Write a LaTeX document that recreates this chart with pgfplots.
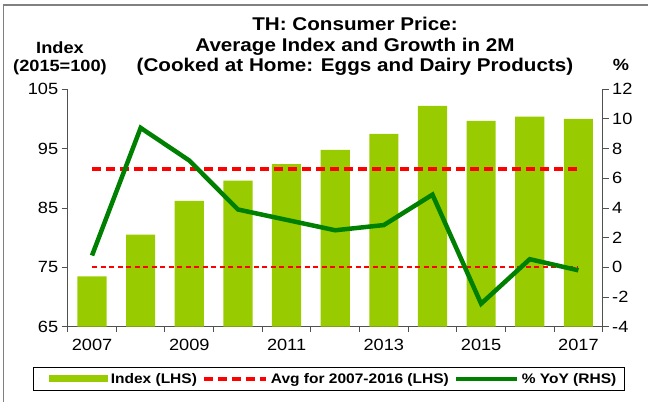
\documentclass[border=0pt]{standalone}
\usepackage{fontspec}
\setmainfont{Liberation Sans}[FakeStretch=1.12]
\usepackage{pgfplots}
\pgfplotsset{compat=1.18}
\definecolor{barg}{HTML}{99CC00}
\definecolor{lineg}{HTML}{008000}
\definecolor{axg}{HTML}{505050}
\definecolor{myred}{HTML}{FF0000}
\begin{document}
\begin{tikzpicture}[x=1bp,y=1bp]
\useasboundingbox (-67.7,-74.3) rectangle (580.3,326.7);
\draw[gray, line width=1.3bp] (-64.4,-80) -- (-64.4,321.7) -- (590,321.7);
\begin{axis}[
  at={(0,0)}, anchor=south west,
  width=535bp, height=237.4bp, scale only axis,
  xmin=-0.5, xmax=10.5, ymin=65, ymax=105,
  axis x line*=bottom, axis y line*=left,
  ytick={65,75,85,95,105},
  xtick={0,2,4,6,8,10}, xticklabels={2007,2009,2011,2013,2015,2017},
  major x tick style={draw=none},
  minor xtick={-0.5,0.5,1.5,2.5,3.5,4.5,5.5,6.5,7.5,8.5,9.5,10.5},
  tick align=outside, major tick length=6bp, minor tick length=5bp,
  axis line style={axg, line width=1bp}, every tick/.style={axg, line width=1bp},
  ticklabel style={font=\fontsize{16.3}{18}\selectfont},
  xticklabel style={yshift=-3bp},
  /pgf/number format/assume math mode=true,
  legend columns=3,
  legend style={at={(-0.0643,-0.1685)}, anchor=north west, draw=black, line width=1bp,
    font=\bfseries\fontsize{13.9}{15}\selectfont, inner xsep=5bp, inner ysep=6bp,
    nodes={inner xsep=3bp, inner ysep=0bp},
    /tikz/column 2/.style={column sep=2bp},
    /tikz/column 4/.style={column sep=2bp}},
]
\addplot[ybar, bar width=0.6, fill=barg, draw=none,
  legend image code/.code={\path (0bp,0bp) -- (1bp,0bp); \fill[barg] (10bp,-3.5bp) rectangle (69bp,3.5bp);}]
  coordinates {(0,73.5) (1,80.5) (2,86.2) (3,89.6) (4,92.4) (5,94.8) (6,97.5) (7,102.2) (8,99.7) (9,100.4) (10,100.0)};
\addlegendentry{Index (LHS)}
\addplot[myred, line width=4bp, dash pattern=on 9bp off 5bp,
  legend image code/.code={\draw[myred, line width=4bp, dash pattern=on 9bp off 5bp] (0bp,0bp) -- (62bp,0bp);}]
  coordinates {(0,91.6) (10,91.6)};
\addlegendentry{Avg for 2007-2016 (LHS)}
\addlegendimage{legend image code/.code={\draw[lineg, line width=4bp] (0bp,0bp) -- (61bp,0bp);}}
\addlegendentry{\% YoY (RHS)}
\end{axis}
\begin{axis}[
  at={(0,0)}, anchor=south west,
  width=535bp, height=237.4bp, scale only axis,
  xmin=-0.5, xmax=10.5, ymin=-4, ymax=12,
  axis x line=none, axis y line*=right,
  ytick={-4,-2,0,2,4,6,8,10,12},
  tick align=outside, major tick length=6bp,
  axis line style={axg, line width=1bp}, every tick/.style={axg, line width=1bp},
  ticklabel style={font=\fontsize{16.3}{18}\selectfont},
  /pgf/number format/assume math mode=true,
]
\addplot[draw=myred, color=myred, line width=1.8bp, dash pattern=on 5bp off 3.5bp]
  coordinates {(0,0) (10,0)};
\addplot[lineg, line width=4.5bp]
  coordinates {(0,0.8) (1,9.4) (2,7.2) (3,3.9) (4,3.2) (5,2.5) (6,2.85) (7,4.9) (8,-2.45) (9,0.55) (10,-0.2)};
\end{axis}
\node[font=\bfseries\fontsize{18.5}{20}\selectfont, anchor=base] at (287.3,296.2) {TH: Consumer Price:};
\node[font=\bfseries\fontsize{18.5}{20}\selectfont, anchor=base] at (287.3,275.7) {Average Index and Growth in 2M};
\node[font=\bfseries\fontsize{18.5}{20}\selectfont, anchor=base] at (287.3,255) {(Cooked at Home: Eggs and Dairy Products)};
\node[font=\bfseries\fontsize{16.3}{18}\selectfont, anchor=base] at (-7.7,273.7) {Index};
\node[font=\bfseries\fontsize{16.3}{18}\selectfont, anchor=base] at (-7.7,255) {(2015=100)};
\node[font=\bfseries\fontsize{16.3}{18}\selectfont, anchor=base] at (553.3,256) {\%};
\end{tikzpicture}
\end{document}
